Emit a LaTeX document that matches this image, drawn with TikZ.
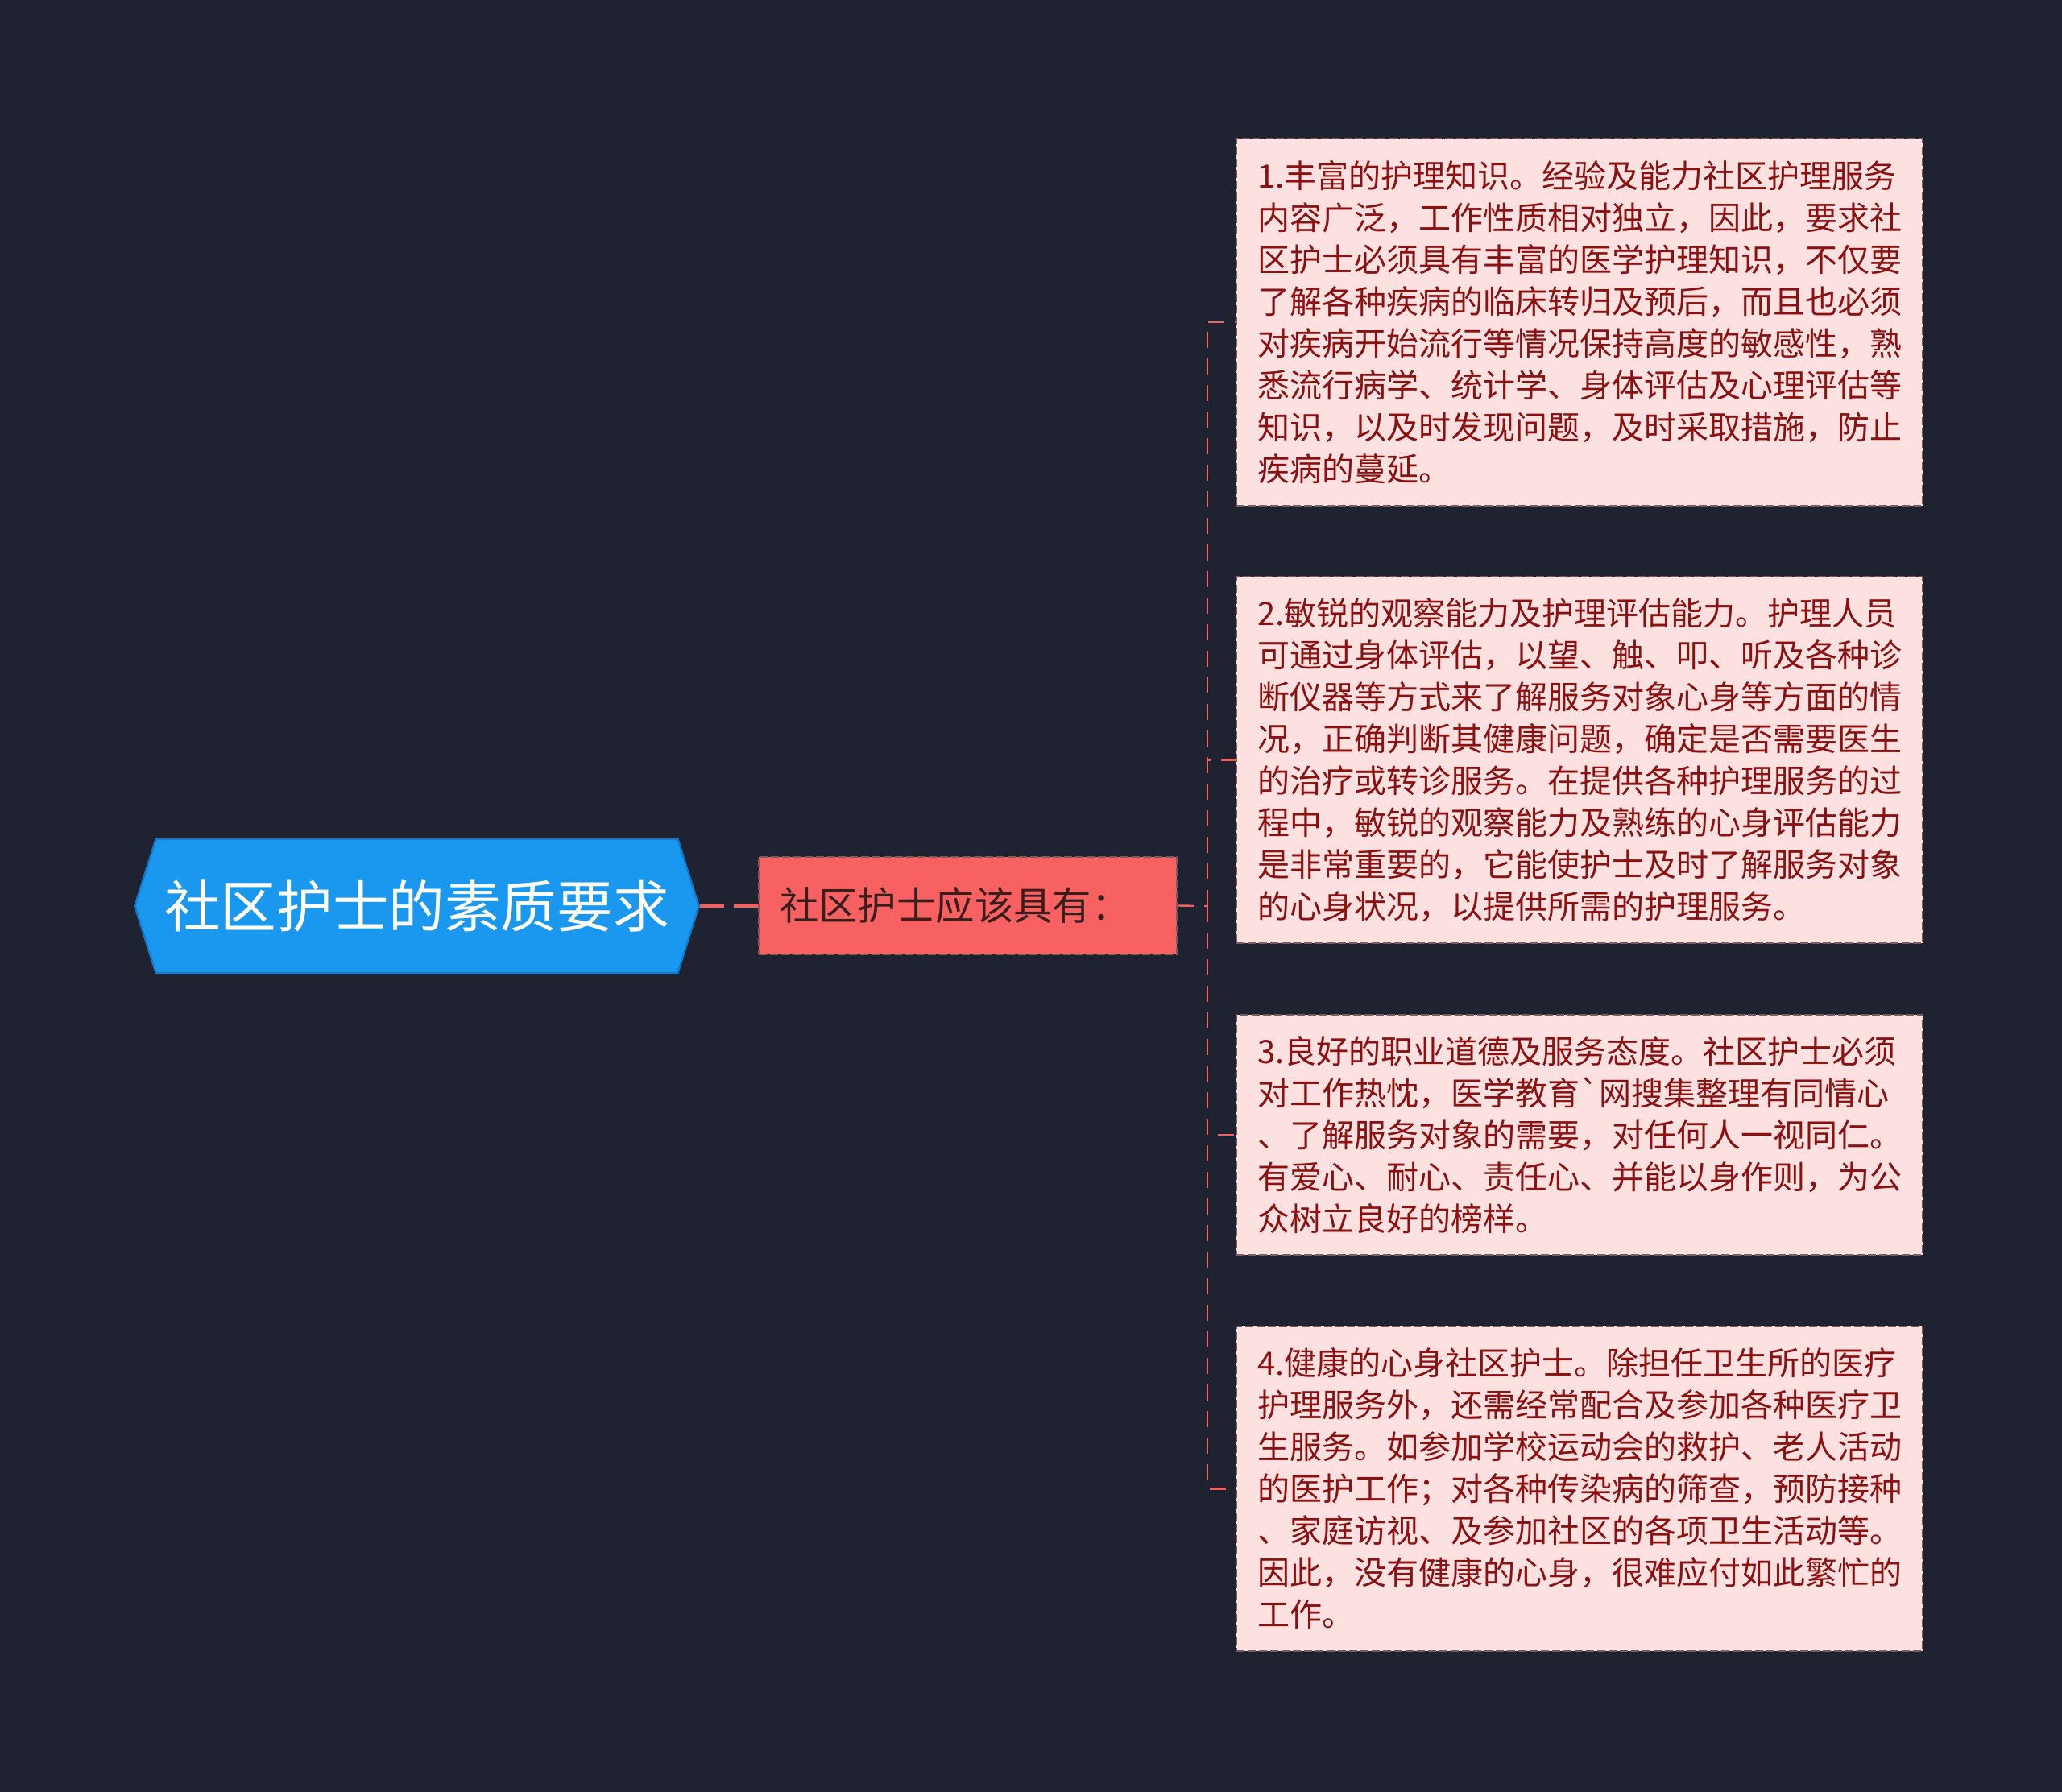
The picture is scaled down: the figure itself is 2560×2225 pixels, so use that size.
\documentclass[tikz,border=0pt]{standalone}
\usepackage{fontspec}
\setmainfont{Noto Sans CJK SC}
\newfontfamily\rawfont{Noto Sans CJK SC}[Ligatures=TeXOff]
\usetikzlibrary{shapes.symbols}
\definecolor{bgcol}{HTML}{1F2230}
\definecolor{rootblue}{HTML}{1A98F0}
\definecolor{rootedge}{HTML}{1579C9}
\definecolor{midred}{HTML}{F76161}
\definecolor{midtext}{HTML}{3A1E1E}
\definecolor{leafpink}{HTML}{FDE1E1}
\definecolor{leaftext}{HTML}{8C1010}
\definecolor{edgegray}{HTML}{7A5C5C}
\definecolor{linkred}{HTML}{F06262}
\tikzset{
  rootnode/.style={shape=signal, signal to=west and east, signal pointer angle=145,
    fill=rootblue, draw=rootedge, line width=0.6pt, text=white,
    minimum height=41.5pt, minimum width=173.75pt, inner xsep=2.7pt,
    font=\fontsize{17.4pt}{20pt}\selectfont},
  midnode/.style={rectangle, fill=midred, draw=edgegray, dash pattern=on 2.5pt off 1pt,
    line width=0.6pt, text=midtext, minimum height=30.25pt, text width=116.75pt,
    inner xsep=6.5pt, align=left, font=\fontsize{12.1pt}{14pt}\selectfont},
  leafnode/.style={rectangle, fill=leafpink, draw=edgegray, dash pattern=on 2.5pt off 1pt,
    line width=0.5pt, text=leaftext, text width=200pt, inner xsep=6.5pt, inner ysep=6.7pt,
    align=left, font=\fontsize{10pt}{13pt}\selectfont},
  link/.style={draw=linkred, line width=1.2pt, dash pattern=on 7.5pt off 3pt},
  branch/.style={draw=linkred, line width=0.6pt, dash pattern=on 5pt off 3.25pt}
}
\begin{document}
\begin{tikzpicture}[x=0.25pt,y=-0.25pt]
  \fill[bgcol] (0,0) rectangle (2560,2225);
  % main topic and its one child
  \node[rootnode] (root) at (517.5,1125) {社区护士的素质要求};
  \node[midnode] (mid) at (1201.5,1124.5) {社区护士应该具有：};
  \coordinate (fork) at (1499,1125);
  % the four qualities
  \node[leafnode] (leaf1) at (1961,400) {1.丰富的护理知识。经验及能力社区护理服务\\
    内容广泛，工作性质相对独立，因此，要求社\\
    区护士必须具有丰富的医学护理知识，不仅要\\
    了解各种疾病的临床转归及预后，而且也必须\\
    对疾病开始流行等情况保持高度的敏感性，熟\\
    悉流行病学、统计学、身体评估及心理评估等\\
    知识，以及时发现问题，及时采取措施，防止\\
    疾病的蔓延。};
  \node[leafnode] (leaf2) at (1961,943.5) {2.敏锐的观察能力及护理评估能力。护理人员\\
    可通过身体评估，以望、触、叩、听及各种诊\\
    断仪器等方式来了解服务对象心身等方面的情\\
    况，正确判断其健康问题，确定是否需要医生\\
    的治疗或转诊服务。在提供各种护理服务的过\\
    程中，敏锐的观察能力及熟练的心身评估能力\\
    是非常重要的，它能使护士及时了解服务对象\\
    的心身状况，以提供所需的护理服务。};
  \node[leafnode] (leaf3) at (1961,1409) {3.良好的职业道德及服务态度。社区护士必须\\
    对工作热忱，医学教育{\rawfont`}网搜集整理有同情心\\
    、了解服务对象的需要，对任何人一视同仁。\\
    有爱心、耐心、责任心、并能以身作则，为公\\
    众树立良好的榜样。};
  \node[leafnode] (leaf4) at (1961,1848.5) {4.健康的心身社区护士。除担任卫生所的医疗\\
    护理服务外，还需经常配合及参加各种医疗卫\\
    生服务。如参加学校运动会的救护、老人活动\\
    的医护工作；对各种传染病的筛查，预防接种\\
    、家庭访视、及参加社区的各项卫生活动等。\\
    因此，没有健康的心身，很难应付如此繁忙的\\
    工作。};
  % connectors
  \draw[link] (root.east) -- (mid.west);
  \draw[branch] (mid.east) -- (fork);
  \foreach \i in {1,...,4}{\draw[branch] (fork) |- (leaf\i.west);}
\end{tikzpicture}
\end{document}
